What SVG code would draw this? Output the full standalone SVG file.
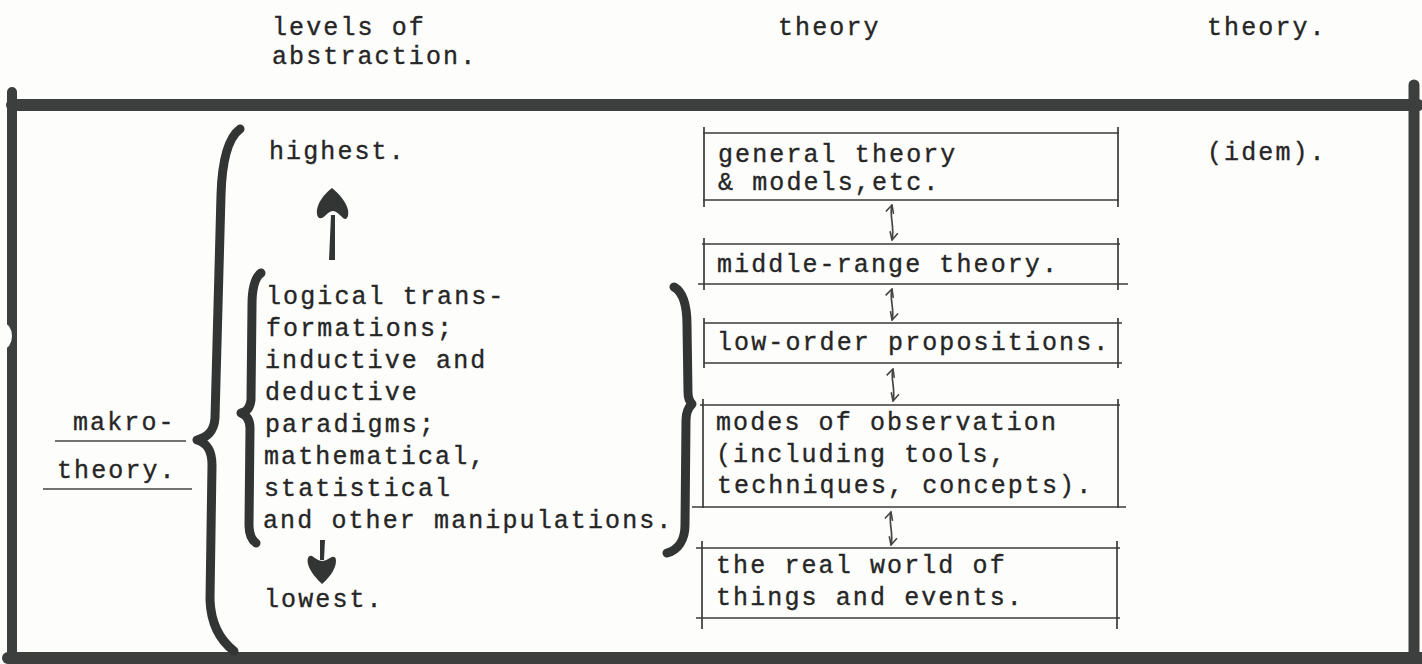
<svg xmlns="http://www.w3.org/2000/svg" width="1422" height="664" viewBox="0 0 1422 664">
<defs>
<style>
.t{font-family:"Liberation Mono","DejaVu Sans Mono",monospace;font-size:25px;letter-spacing:2.1px;fill:#262626;stroke:#262626;stroke-width:0.35}
.bar{stroke:#3c3f3e;stroke-linecap:round;fill:none}
.box{stroke:#3a3a3a;stroke-width:1.7;fill:none}
.brace{stroke:#333535;stroke-width:9;stroke-linecap:round;stroke-linejoin:round;fill:none}
.dbl{stroke:#444;stroke-width:1.7;fill:none;marker-start:url(#v);marker-end:url(#v)}
.ul{stroke:#444;stroke-width:1.5}
.fat{fill:#333535}
</style>
<marker id="v" viewBox="0 0 10 10" refX="9" refY="5" markerWidth="10" markerHeight="10" markerUnits="userSpaceOnUse" orient="auto-start-reverse">
<path d="M1,1 L9,5 L1,9" fill="none" stroke="#444" stroke-width="1.6"/>
</marker>
</defs>
<rect width="1422" height="664" fill="#fdfdfb"/>

<g id="frame">
<line class="bar" x1="12" y1="105" x2="1418" y2="105" stroke-width="12"/>
<line class="bar" x1="12" y1="92" x2="12" y2="664" stroke-width="10"/>
<line class="bar" x1="1414" y1="85" x2="1414" y2="664" stroke-width="11"/>
<line class="bar" x1="8" y1="658" x2="1422" y2="658" stroke-width="12" stroke-linecap="butt"/>
<ellipse cx="3" cy="336" rx="9" ry="13" fill="#fdfdfb"/>
</g>

<g id="headers">
<text class="t" x="272" y="35">levels of</text>
<text class="t" x="272" y="64">abstraction.</text>
<text class="t" x="778" y="35">theory</text>
<text class="t" x="1207" y="35">theory.</text>
</g>

<g id="idem">
<text class="t" x="1207" y="160">(idem).</text>
</g>

<g id="makro">
<text class="t" x="73" y="430">makro-</text>
<line class="ul" x1="55" y1="441" x2="186" y2="441"/>
<text class="t" x="57" y="478">theory.</text>
<line class="ul" x1="43" y1="489" x2="192" y2="489"/>
</g>

<g id="big-brace">
<path class="brace" d="M240,129 C228,138 222,160 221,195 L215,418 C214,432 207,437 197,440 C207,443 212,450 212,465 L210,600 C211,625 221,641 234,651"/>
</g>

<g id="levels">
<text class="t" x="269" y="159">highest.</text>
<text class="t" x="264" y="607">lowest.</text>
</g>

<g id="manipulations">
<path class="brace" d="M261,273 C254,278 252,290 252,305 L251,400 C250,408 246,412 241,413 C246,415 250,420 250,428 L249,525 C249,535 252,540 256,543"/>
<text class="t" x="266" y="304">logical trans-</text>
<text class="t" x="266" y="336">formations;</text>
<text class="t" x="265" y="368">inductive and</text>
<text class="t" x="265" y="400">deductive</text>
<text class="t" x="265" y="432">paradigms;</text>
<text class="t" x="264" y="464">mathematical,</text>
<text class="t" x="264" y="496">statistical</text>
<text class="t" x="263" y="528">and other manipulations.</text>
<path class="brace" d="M674,287 C683,292 687,305 687,325 L688,392 C688,398 690,402 692,404 C689,407 686,412 686,420 L685,525 C685,540 678,550 667,553"/>
</g>

<g id="box-general">
<line class="box" x1="703" y1="133" x2="1119" y2="133"/>
<line class="box" x1="703" y1="200" x2="1119" y2="200"/>
<line class="box" x1="704" y1="127" x2="704" y2="207"/>
<line class="box" x1="1118" y1="127" x2="1118" y2="207"/>
<text class="t" x="718" y="162">general theory</text>
<text class="t" x="718" y="190">&amp; models,etc.</text>
</g>

<g id="box-middle">
<line class="box" x1="702" y1="244" x2="1120" y2="244"/>
<line class="box" x1="698" y1="284" x2="1128" y2="284"/>
<line class="box" x1="704" y1="238" x2="704" y2="290"/>
<line class="box" x1="1118" y1="238" x2="1118" y2="290"/>
<text class="t" x="717" y="272">middle-range theory.</text>
</g>

<g id="box-low">
<line class="box" x1="704" y1="323" x2="1122" y2="323"/>
<line class="box" x1="704" y1="363" x2="1122" y2="363"/>
<line class="box" x1="704" y1="318" x2="704" y2="368"/>
<line class="box" x1="1118" y1="318" x2="1118" y2="368"/>
<text class="t" x="717" y="350">low-order propositions.</text>
</g>

<g id="box-modes">
<line class="box" x1="700" y1="405" x2="1120" y2="405"/>
<line class="box" x1="692" y1="507" x2="1126" y2="507"/>
<line class="box" x1="703" y1="399" x2="703" y2="508"/>
<line class="box" x1="1118" y1="399" x2="1118" y2="508"/>
<text class="t" x="716" y="430">modes of observation</text>
<text class="t" x="716" y="462">(including tools,</text>
<text class="t" x="717" y="493">techniques, concepts).</text>
</g>

<g id="box-real">
<line class="box" x1="696" y1="548" x2="1120" y2="548"/>
<line class="box" x1="696" y1="618" x2="1120" y2="618"/>
<line class="box" x1="702" y1="541" x2="702" y2="629"/>
<line class="box" x1="1117" y1="541" x2="1117" y2="629"/>
<text class="t" x="716" y="573">the real world of</text>
<text class="t" x="716" y="605">things and events.</text>
</g>

<g id="connectors">
<path class="dbl" d="M892,205 C889,215 895,228 892,240"/>
<path class="dbl" d="M892,289 C889,298 895,310 892,320"/>
<path class="dbl" d="M893,369 C890,378 896,390 893,401"/>
<path class="dbl" d="M891,512 C888,522 894,534 891,545"/>
<path class="fat" d="M329,260 L331,215 L335,215 L335,260 Z"/>
<path class="fat" d="M332,188 C327,192 316,202 317,214 C318,220 322,219 326,215 C329,212 331,211 333,211 C336,211 339,214 343,218 C347,221 349,216 348,210 C346,201 338,193 332,188 Z"/>
<path class="fat" d="M320,540 L325,540 L324,560 L320,560 Z"/>
<path class="fat" d="M322,584 C327,580 336,570 336,561 C336,556 333,556 330,558 C327,560 324,561 322,561 C319,561 315,558 312,556 C308,555 307,559 308,564 C310,572 317,579 322,584 Z"/>
</g>
</svg>
